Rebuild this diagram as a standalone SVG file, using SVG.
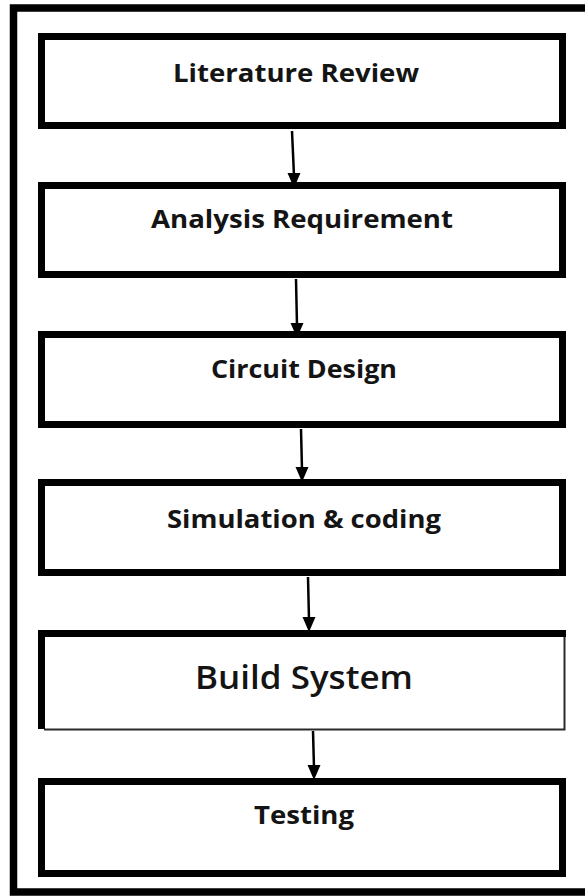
<svg xmlns="http://www.w3.org/2000/svg" width="585" height="896" viewBox="0 0 585 896">
  <defs>
    <style>
      .box { fill: #ffffff; stroke: #000000; stroke-width: 7; }
      .lbl { font-family: "Open Sans", "Liberation Sans", sans-serif; font-weight: 700; font-size: 25px; fill: #141414; text-anchor: middle; }
      .big { font-size: 33px; font-weight: 600; }
      .shaft { stroke: #000000; stroke-width: 2.5; fill: none; }
      .head { fill: #000000; stroke: none; }
    </style>
  </defs>

  <rect width="585" height="896" fill="#ffffff"/>

  <!-- outer frame, running off the right edge -->
  <rect x="13.5" y="8" width="640" height="884" fill="none" stroke="#000000" stroke-width="7.5"/>

  <g id="literature-review">
    <rect class="box" x="41.5" y="36.5" width="521" height="89"/>
    <text class="lbl" x="296" y="82" textLength="246" lengthAdjust="spacingAndGlyphs">Literature Review</text>
  </g>

  <g id="analysis-requirement">
    <rect class="box" x="41.5" y="185.5" width="521" height="89"/>
    <text class="lbl" x="302" y="228" textLength="302" lengthAdjust="spacingAndGlyphs">Analysis Requirement</text>
  </g>

  <g id="circuit-design">
    <rect class="box" x="41.5" y="334.5" width="521" height="90"/>
    <text class="lbl" x="304" y="378" textLength="186" lengthAdjust="spacingAndGlyphs">Circuit Design</text>
  </g>

  <g id="simulation-coding">
    <rect class="box" x="41.5" y="482.5" width="521" height="90"/>
    <text class="lbl" x="304" y="528" textLength="274" lengthAdjust="spacingAndGlyphs">Simulation &amp; coding</text>
  </g>

  <g id="build-system">
    <rect x="41.5" y="632.5" width="523" height="97" fill="#ffffff" stroke="none"/>
    <!-- heavy top and left edges, light right and bottom edges -->
    <path d="M564.5 633 V729.5 H44" fill="none" stroke="#2a2a2a" stroke-width="2"/>
    <path d="M41.5 729 V633.5 H566" fill="none" stroke="#000000" stroke-width="7"/>
    <text class="lbl big" x="304" y="689" textLength="218" lengthAdjust="spacingAndGlyphs">Build System</text>
  </g>

  <g id="testing">
    <rect class="box" x="41.5" y="781.5" width="521" height="92"/>
    <text class="lbl" x="304" y="824" textLength="100" lengthAdjust="spacingAndGlyphs">Testing</text>
  </g>

  <g id="connectors">
    <line class="shaft" x1="292" y1="131" x2="294" y2="176"/>
    <polygon class="head" points="287.5,173 300.5,173 294,188"/>

    <line class="shaft" x1="296" y1="279" x2="297" y2="326"/>
    <polygon class="head" points="290.5,323 303.5,323 297,338"/>

    <line class="shaft" x1="301" y1="429" x2="302" y2="470"/>
    <polygon class="head" points="295.5,467 308.5,467 302,482"/>

    <line class="shaft" x1="308" y1="577" x2="309" y2="620"/>
    <polygon class="head" points="302.5,617 315.5,617 309,632"/>

    <line class="shaft" x1="313" y1="731" x2="314" y2="768"/>
    <polygon class="head" points="307.5,765 320.5,765 314,780"/>
  </g>
</svg>
